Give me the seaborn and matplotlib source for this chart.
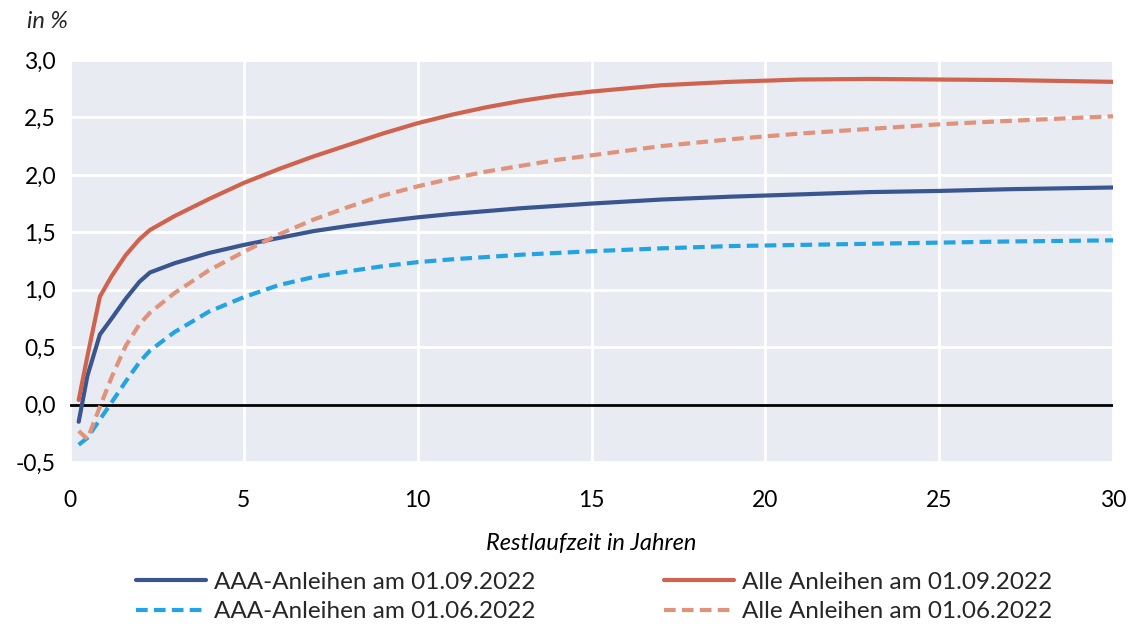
import numpy as np
import pandas as pd
import matplotlib
matplotlib.use("Agg")
import matplotlib.pyplot as plt
import seaborn as sns
from matplotlib.ticker import FixedLocator, FuncFormatter

# ---- data ----
maturities = [0.25, 0.5, 0.86, 1.2, 1.6, 2.0, 2.3, 3, 4, 5, 6, 7, 8, 9, 10, 11, 12, 13, 14, 15, 17, 19, 21, 23, 25, 27, 30]
aaa_0109 = [-0.15, 0.25, 0.61, 0.75, 0.92, 1.07, 1.15, 1.23, 1.32, 1.39, 1.45, 1.51, 1.555, 1.595, 1.63, 1.66, 1.685, 1.71, 1.73, 1.75, 1.785, 1.81, 1.83, 1.85, 1.86, 1.875, 1.89]
alle_0109 = [0.04, 0.42, 0.94, 1.12, 1.30, 1.44, 1.52, 1.64, 1.79, 1.93, 2.05, 2.16, 2.26, 2.36, 2.45, 2.525, 2.59, 2.645, 2.69, 2.725, 2.78, 2.81, 2.83, 2.835, 2.83, 2.825, 2.81]
aaa_0106 = [-0.35, -0.29, -0.13, 0.02, 0.20, 0.37, 0.47, 0.63, 0.81, 0.935, 1.04, 1.11, 1.16, 1.205, 1.24, 1.265, 1.285, 1.305, 1.32, 1.335, 1.36, 1.38, 1.39, 1.40, 1.41, 1.42, 1.43]
alle_0106 = [-0.23, -0.30, -0.02, 0.24, 0.51, 0.70, 0.80, 0.97, 1.17, 1.33, 1.48, 1.61, 1.72, 1.82, 1.90, 1.97, 2.03, 2.08, 2.13, 2.17, 2.25, 2.31, 2.36, 2.40, 2.44, 2.47, 2.51]

series_names = ["AAA-Anleihen am 01.09.2022", "AAA-Anleihen am 01.06.2022",
                "Alle Anleihen am 01.09.2022", "Alle Anleihen am 01.06.2022"]
series_values = [aaa_0109, aaa_0106, alle_0109, alle_0106]

x_ticks = [0, 5, 10, 15, 20, 25, 30]
y_ticks = [-0.5, 0.0, 0.5, 1.0, 1.5, 2.0, 2.5, 3.0]
x_label = "Restlaufzeit in Jahren"
y_unit = "in %"

colors = {
    "AAA-Anleihen am 01.09.2022": "#3A5690",
    "AAA-Anleihen am 01.06.2022": "#22A3E3",
    "Alle Anleihen am 01.09.2022": "#D0634E",
    "Alle Anleihen am 01.06.2022": "#E0937A",
}
dash_styles = {
    "AAA-Anleihen am 01.09.2022": "",
    "AAA-Anleihen am 01.06.2022": (2.8, 1.5),
    "Alle Anleihen am 01.09.2022": "",
    "Alle Anleihen am 01.06.2022": (2.8, 1.5),
}

rows = []
for name, vals in zip(series_names, series_values):
    for m, v in zip(maturities, vals):
        rows.append({"Restlaufzeit": m, "Rendite": v, "Serie": name})
df = pd.DataFrame(rows)

sns.set_theme(style="darkgrid")
plt.rcParams["font.family"] = ["Lato", "DejaVu Sans"]

fig = plt.figure(figsize=(11.36, 6.27), dpi=100)
ax = fig.add_axes([70 / 1136, 1 - 462 / 627, (1113 - 70) / 1136, (462 - 60) / 627])
ax.set_facecolor("#E8EBF2")

ax.axhline(0, color="black", lw=2.0, zorder=1.5)

sns.lineplot(data=df, x="Restlaufzeit", y="Rendite", hue="Serie", style="Serie",
             hue_order=series_names, style_order=series_names,
             palette=colors, dashes=dash_styles, linewidth=3.0, ax=ax, legend=False,
             zorder=3)

ax.set_xlim(0, 30)
ax.set_ylim(-0.5, 3.0)
ax.xaxis.set_major_locator(FixedLocator(x_ticks))
ax.yaxis.set_major_locator(FixedLocator(y_ticks))
ax.yaxis.set_major_formatter(FuncFormatter(lambda v, p: f"{v:.1f}".replace(".", ",")))
ax.xaxis.set_major_formatter(FuncFormatter(lambda v, p: f"{int(v)}"))
ax.grid(True, color="white", lw=2.0)
for s in ax.spines.values():
    s.set_visible(False)
ax.tick_params(axis="both", labelsize=16.5, length=0, colors="black")
ax.tick_params(axis="x", pad=20)
ax.tick_params(axis="y", pad=10)

ax.set_xlabel(x_label, fontsize=17, style="italic", labelpad=16, color="black")
ax.set_ylabel("")
fig.text(27 / 1136, 1 - 22 / 627, y_unit, fontsize=17, style="italic", va="center", ha="left")

handles = []
for name in series_names:
    (h,) = ax.plot([], [], color=colors[name], lw=3.0,
                   linestyle="-" if dash_styles[name] == "" else (0, dash_styles[name]))
    handles.append(h)
leg = fig.legend(handles, series_names, ncol=2, loc="center left",
                 bbox_to_anchor=(114 / 1136, 1 - 597 / 627), frameon=False,
                 fontsize=17.5, handlelength=2.9, handletextpad=0.3,
                 columnspacing=5.3, labelspacing=0.35)

fig.savefig("out.png", dpi=100)
